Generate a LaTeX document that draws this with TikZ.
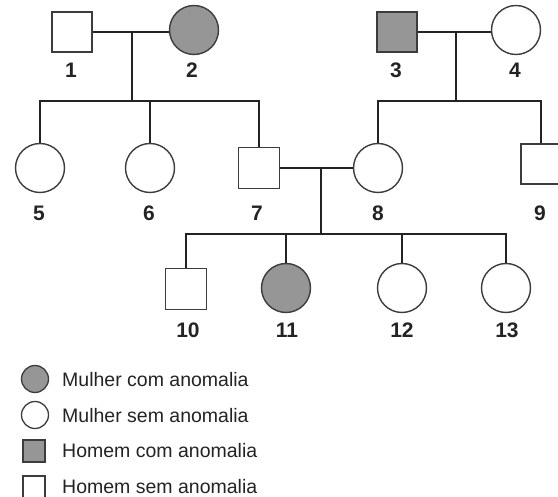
\documentclass[tikz,border=0pt]{standalone}
\usepackage{fontspec}
\setmainfont{Liberation Sans}
\definecolor{aff}{RGB}{150,150,150}
\definecolor{edge}{RGB}{60,60,60}
\definecolor{ln}{RGB}{35,35,35}
\begin{document}
\begin{tikzpicture}[x=1pt,y=-1pt,
  female/.style={circle,draw=edge,line width=1.4pt,fill=white,minimum size=49pt,inner sep=0pt},
  male/.style={rectangle,draw=edge,line width=1.4pt,fill=white,minimum size=40pt,inner sep=0pt},
  affected/.style={fill=aff},
  lab/.style={font=\fontsize{21}{23}\selectfont\bfseries,text=ln,inner sep=0pt},
  rel/.style={draw=ln,line width=2pt},
  lfemale/.style={circle,draw=edge,line width=1.3pt,fill=white,minimum size=27pt,inner sep=0pt},
  lmale/.style={rectangle,draw=edge,line width=1.3pt,fill=white,minimum size=22pt,inner sep=0pt},
  ltext/.style={anchor=west,font=\fontsize{19.5}{21}\selectfont,text=ln,inner sep=0pt}]
\useasboundingbox (0,0) rectangle (558,497);
% generation I
\node[male] (n1) at (72,32) {};
\node[female,affected] (n2) at (194,30) {};
\node[male,affected] (n3) at (397,32) {};
\node[female] (n4) at (516,30) {};
% generation II
\node[female] (n5) at (40,168) {};
\node[female] (n6) at (150,168) {};
\node[male,minimum size=41pt] (n7) at (259,168) {};
\node[female] (n8) at (378,168) {};
\node[male] (n9) at (541,164) {};
% generation III
\node[male,minimum size=41pt] (n10) at (186,289) {};
\node[female,affected] (n11) at (286,288) {};
\node[female] (n12) at (402,288) {};
\node[female] (n13) at (506,288) {};
% labels
\node[lab] (l1) at (71,70) {1};
\node[lab] (l2) at (192,70) {2};
\node[lab] (l3) at (396,70) {3};
\node[lab] (l4) at (515,70) {4};
\node[lab] (l5) at (39,213) {5};
\node[lab] (l6) at (149,213) {6};
\node[lab] (l7) at (257,213) {7};
\node[lab] (l8) at (378,213) {8};
\node[lab] (l9) at (540,213) {9};
\node[lab] (l10) at (188,330) {10};
\node[lab] (l11) at (287,330) {11};
\node[lab] (l12) at (402,330) {12};
\node[lab] (l13) at (507,330) {13};
% relationship coordinates
\coordinate (m12) at (132,32);
\coordinate (s12) at (132,101);
\coordinate (m34) at (456,33);
\coordinate (s34) at (456,101);
\coordinate (m78) at (321,168);
\coordinate (s78) at (321,234);
% marriages
\draw[rel] (n1.east) -- (n1.east-|n2.west);
\draw[rel] (n3.east) -- (n3.east-|n4.west);
\draw[rel] (n7.east) -- (n8.west);
% descent lines
\draw[rel] (m12) -- (s12);
\draw[rel] (m34) -- (s34);
\draw[rel] (m78) -- (s78);
% sibships
\draw[rel] (n5.north) -- (n5.north|-s12) -- (n7.north|-s12) -- (n7.north);
\draw[rel] (n6.north) -- (n6.north|-s12);
\draw[rel] (n8.north) -- (n8.north|-s34) -- (n9.north|-s34) -- (n9.north);
\draw[rel] (n10.north) -- (n10.north|-s78) -- (n13.north|-s78) -- (n13.north);
\draw[rel] (n11.north) -- (n11.north|-s78);
\draw[rel] (n12.north) -- (n12.north|-s78);
% legend
\node[lfemale,affected] (k1) at (35,379) {};
\node[lfemale] (k2) at (35,415) {};
\node[lmale,affected] (k3) at (34,451) {};
\node[lmale] (k4) at (34,487) {};
\node[ltext] (t1) at (62,380) {Mulher com anomalia};
\node[ltext] (t2) at (62,416) {Mulher sem anomalia};
\node[ltext] (t3) at (62,451) {Homem com anomalia};
\node[ltext] (t4) at (62,487) {Homem sem anomalia};
\end{tikzpicture}
\end{document}
